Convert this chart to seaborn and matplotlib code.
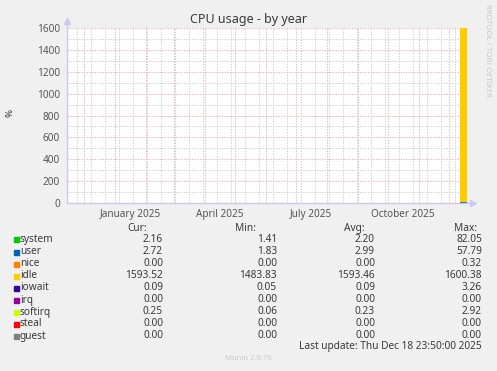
import pandas as pd
import seaborn as sns
import matplotlib.pyplot as plt
import numpy as np

# Data (daily values, last week of the year graph)
days = ['2025-12-12', '2025-12-13', '2025-12-14', '2025-12-15',
        '2025-12-16', '2025-12-17', '2025-12-18']
series = ['system', 'user', 'nice', 'idle', 'iowait', 'irq', 'softirq', 'steal', 'guest']
colors = ['#00CC00', '#0066B3', '#FF8000', '#FFCC00', '#330099',
          '#990099', '#CCFF00', '#FF0000', '#808080']
system = [2.25, 2.18, 2.31, 2.19, 2.22, 2.14, 2.16]
user = [3.10, 2.95, 3.05, 2.98, 3.02, 3.12, 2.72]
nice = [0.00, 0.00, 0.01, 0.00, 0.00, 0.00, 0.00]
idle = [1593.3, 1593.5, 1593.4, 1593.6, 1593.5, 1593.4, 1593.52]
iowait = [0.09, 0.10, 0.08, 0.09, 0.10, 0.09, 0.09]
irq = [0.00, 0.00, 0.00, 0.00, 0.00, 0.00, 0.00]
softirq = [0.23, 0.22, 0.24, 0.23, 0.22, 0.23, 0.25]
steal = [0.00, 0.00, 0.00, 0.00, 0.00, 0.00, 0.00]
guest = [0.00, 0.00, 0.00, 0.00, 0.00, 0.00, 0.00]

cur = ['2.16', '2.72', '0.00', '1593.52', '0.09', '0.00', '0.25', '0.00', '0.00']
mins = ['1.41', '1.83', '0.00', '1483.83', '0.05', '0.00', '0.06', '0.00', '0.00']
avgs = ['2.20', '2.99', '0.00', '1593.46', '0.09', '0.00', '0.23', '0.00', '0.00']
maxs = ['82.05', '57.79', '0.32', '1600.38', '3.26', '0.00', '2.92', '0.00', '0.00']

yticks = [0, 200, 400, 600, 800, 1000, 1200, 1400, 1600]
month_labels = ['January 2025', 'April 2025', 'July 2025', 'October 2025']
start, end = pd.Timestamp('2024-11-14'), pd.Timestamp('2025-12-19')

df = pd.DataFrame({'day': pd.to_datetime(days), 'system': system, 'user': user,
                   'nice': nice, 'idle': idle, 'iowait': iowait, 'irq': irq,
                   'softirq': softirq, 'steal': steal, 'guest': guest})

sns.set_theme(style='white')
plt.rcParams['font.family'] = ['Noto Sans', 'DejaVu Sans']
txt = '#3A3A3A'

W, H = 497, 371
fig = plt.figure(figsize=(W / 100, H / 100), dpi=100, facecolor='#F0F0F0')
ax = fig.add_axes([67 / W, 1 - 203 / H, 400 / W, 175 / H])
ax.set_facecolor('white')
ax.set_xlim(start, end)
ax.set_ylim(0, 1600)

# grid: minor every 14 days / 100 units, major at month starts / 200 units
minor_days = pd.date_range('2024-11-24', end, freq='14D')
month_starts = pd.date_range('2024-12-01', end, freq='MS')
gray = '#D0D0D0'
red = '#F0B4B4'
for d in minor_days:
    ax.axvline(d, color=gray, lw=0.75, ls=(0, (1.3, 1.3)), zorder=0)
for v in range(100, 1600, 200):
    ax.axhline(v, color=gray, lw=0.75, ls=(0, (1.3, 1.3)), zorder=0)
for d in month_starts:
    ax.axvline(d, color=red, lw=0.75, ls=(0, (1.3, 1.3)), zorder=1)
for v in yticks[1:]:
    ax.axhline(v, color=red, lw=0.75, ls=(0, (1.3, 1.3)), zorder=1)

# stacked areas
x = list(df['day']) + [end]
base = np.zeros(len(df) + 1)
for name, c in zip(series, colors):
    vals = np.append(df[name].values, df[name].values[-1])
    ax.fill_between(x, base, base + vals, step='post', color=c, lw=0, zorder=2)
    base = base + vals

# axes
sns.despine(ax=ax, top=True, right=True, left=True, bottom=True)
axc = '#C8C8F0'
ax.plot([0, 0], [0, 1.035], color=axc, lw=1, transform=ax.transAxes, clip_on=False, zorder=3)
ax.plot([0, 1.012], [0, 0], color=axc, lw=1, transform=ax.transAxes, clip_on=False, zorder=3)
ax.plot([0], [1.04], marker='^', ms=4, color=axc, transform=ax.transAxes, clip_on=False)
ax.plot([1.015], [0], marker='>', ms=4, color=axc, transform=ax.transAxes, clip_on=False)

ax.set_yticks(yticks)
ax.set_yticklabels([str(v) for v in yticks])
ax.tick_params(axis='y', length=2, color=red, pad=3, labelsize=7.2, labelcolor='#555555')
ax.set_xticks(month_starts)
ax.set_xticklabels([''] * len(month_starts))
ax.tick_params(axis='x', which='major', length=2, color=red)
label_pos = [pd.Timestamp(s) for s in ['2025-01-16', '2025-04-16', '2025-07-16', '2025-10-16']]
ax.set_xticks(label_pos, minor=True)
ax.set_xticklabels(month_labels, minor=True)
ax.tick_params(axis='x', which='minor', length=0, pad=4, labelsize=7.2, labelcolor='#555555')
ax.grid(False)

# titles
fig.text(248 / W, 1 - 20 / H, 'CPU usage - by year', ha='center', va='center', fontsize=9, color=txt)
fig.text(10 / W, 1 - 113 / H, '%', rotation=90, ha='center', va='center', fontsize=7, color=txt)
fig.text(487 / W, 1 - 51 / H, 'RRDTOOL / TOBI OETIKER', rotation=270, ha='center', va='center',
         fontsize=5.5, color='#C8C8C8')

# legend table
fs = 7.3
hy = 228
for label, xr in zip(['Cur:', 'Min:', 'Avg:', 'Max:'], [147, 256, 365, 477]):
    fig.text(xr / W, 1 - hy / H, label, ha='right', va='center', fontsize=fs, color=txt)
for i, name in enumerate(series):
    y = 1 - (240 + 12 * i) / H
    fig.patches.append(plt.Rectangle((14 / W, y - 2.5 / H), 5 / W, 5 / H, color=colors[i],
                                     transform=fig.transFigure, figure=fig))
    fig.text(20 / W, y, name, ha='left', va='center', fontsize=fs, color=txt)
    for col, xr in zip([cur, mins, avgs, maxs], [163, 277, 375, 482]):
        fig.text(xr / W, y, col[i], ha='right', va='center', fontsize=fs, color=txt)

fig.text(482 / W, 1 - 347 / H, 'Last update: Thu Dec 18 23:50:00 2025', ha='right', va='center',
         fontsize=fs, color=txt)
fig.text(248 / W, 1 - 358 / H, 'Munin 2.0.76', ha='center', va='center', fontsize=5.5, color='#C8C8C8')

fig.savefig('out.png', dpi=100, facecolor=fig.get_facecolor())
